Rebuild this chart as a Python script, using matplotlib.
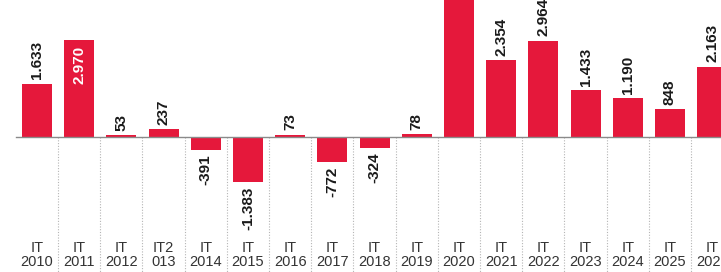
import matplotlib
matplotlib.use("Agg")
import matplotlib.pyplot as plt
import matplotlib.transforms as mtransforms

# data (IT 2020 bar runs past the top edge, its label is not visible)
years = ["IT\n2010", "IT\n2011", "IT\n2012", "IT2\n013", "IT\n2014", "IT\n2015",
         "IT\n2016", "IT\n2017", "IT\n2018", "IT\n2019", "IT\n2020", "IT\n2021",
         "IT\n2022", "IT\n2023", "IT\n2024", "IT\n2025", "IT\n2026"]
values = [1633, 2970, 53, 237, -391, -1383, 73, -772, -324, 78, 4600,
          2354, 2964, 1433, 1190, 848, 2163]
value_labels = ["1.633", "2.970", "53", "237", "-391", "-1.383", "73", "-772", "-324",
                "78", "", "2.354", "2.964", "1.433", "1.190", "848", "2.163"]
inside_label = [1]  # bars whose label sits inside in white

red = "#E5183B"
plt.rcParams['font.family'] = ['Liberation Sans', 'DejaVu Sans']

fig = plt.figure(figsize=(7.21, 2.72), dpi=100)
ax = fig.add_axes([0, 0, 1, 1])
ax.set_xlim(-0.877, 16.21)
ax.set_ylim(-4154, 4215)
ax.axis("off")

x = list(range(len(values)))
ax.bar(x, values, width=0.71, color=red, zorder=2)

# baseline
ax.plot([-0.5, 16.5], [0, 0], color="#8a8a8a", lw=1.0, zorder=3)

# dotted separators below the baseline
for i in range(len(values) - 1):
    ax.plot([i + 0.5, i + 0.5], [0, -4154], color="#b5b5b5", lw=0.8,
            ls=(0, (1, 1.5)), zorder=1)

# value labels
pad = 140
for i, (v, lab) in enumerate(zip(values, value_labels)):
    if not lab:
        continue
    if i in inside_label:
        ax.text(i, v - 160, lab, rotation=90, ha="center", va="top",
                color="white", fontsize=11, fontweight="bold", zorder=4)
    elif v >= 0:
        ax.text(i, v + pad, lab, rotation=90, ha="center", va="bottom",
                color="#1a1a1a", fontsize=11, fontweight="bold", zorder=4)
    else:
        ax.text(i, v - pad, lab, rotation=90, ha="center", va="top",
                color="#1a1a1a", fontsize=11, fontweight="bold", zorder=4)

# category labels at the bottom
trans = mtransforms.blended_transform_factory(ax.transData, ax.transAxes)
for i, name in enumerate(years):
    ax.text(i, 0.062, name, transform=trans, ha="center", va="center",
            color="#333333", fontsize=10.5, linespacing=1.0)

fig.savefig("out.png", dpi=100)
